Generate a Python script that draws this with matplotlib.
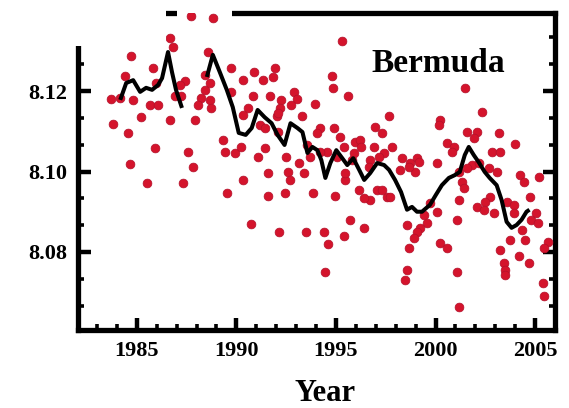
import matplotlib
matplotlib.use("Agg")
import matplotlib.pyplot as plt
from matplotlib.ticker import MultipleLocator, FixedLocator
from matplotlib.patches import Rectangle

# ---- data ----
obs_year = [
    1987.72, 1988.82, 1986.67, 1986.82, 1984.72, 1988.57, 1985.82, 1984.42, 1987.42, 1987.17,
    1988.42, 1985.97, 1989.72, 1989.72, 1983.72, 1984.17, 1984.82, 1985.67, 1986.07, 1986.92,
    1987.22, 1988.42, 1988.22, 1988.07, 1988.67, 1988.72, 1985.22, 1986.67, 1987.92, 1983.82,
    1984.57, 1985.92, 1987.57, 1989.32, 1989.42, 1989.92, 1984.67, 1987.82, 1985.52, 1987.32,
    1989.52, 1988.67,
    1990.32, 1990.87, 1991.32, 1991.92, 1991.82, 1990.82, 1991.67, 1990.57, 1992.22, 1992.92,
    1993.07, 1992.72, 1992.17, 1992.02, 1993.97, 1993.32, 1991.17, 1994.22, 1994.07, 1994.92,
    1995.22, 1996.97, 1997.32, 1995.97, 1996.22, 1996.92, 1997.42, 1997.82, 1990.22, 1991.42,
    1991.07, 1992.47, 1993.57, 1993.72, 1994.57, 1995.07, 1995.82, 1996.72, 1993.17, 1995.32,
    1994.82, 1994.87, 1995.62, 1997.67, 1990.32, 1991.42, 1992.07, 1992.57, 1990.32, 1991.57,
    1993.42, 1992.67, 1991.57, 1992.42, 1993.87, 1994.97, 1995.47, 1996.17, 1997.07, 1997.57,
    1996.72, 1990.72, 1992.12, 1993.52, 1994.42, 1994.62, 1995.42, 1995.72, 1996.42, 1994.47,
    1996.27, 1997.17, 1996.67, 1994.22, 1995.42, 1997.32, 1996.42, 1997.72, 1992.07, 1995.92,
    1995.47,
    2001.47, 2002.32, 2000.22, 2000.17, 2001.57, 2002.07, 2001.92, 2003.17, 2003.97, 2000.57,
    2000.92, 2000.82, 2002.82, 2003.22, 2000.07, 1999.07, 1998.72, 1998.32, 1999.17, 1998.22,
    1998.97, 2001.82, 2001.57, 2001.17, 2002.67, 2003.07, 2004.22, 2004.42, 2005.22, 2001.32,
    2001.42, 2001.17, 2002.72, 2002.47, 2002.07, 2002.42, 2003.57, 2003.92, 2003.92, 2004.72,
    2005.07, 2004.82, 2001.07, 2000.07, 1999.42, 1999.57, 1999.22, 1998.57, 1999.07, 1998.92,
    1998.67, 2000.22, 2000.57, 1999.72, 1998.57, 1998.47, 2001.07, 2001.17, 2005.17, 2004.32,
    2003.72, 2004.47, 2003.22, 2004.17, 2004.67, 2003.42, 2003.47, 2003.47, 2005.42, 2005.47,
    2005.67, 2005.47, 2002.92, 2002.17, 1998.67,
]
obs_ph = [
    8.1386, 8.1381, 8.1332, 8.1309, 8.1287, 8.1297, 8.1257, 8.1237, 8.1225, 8.1215,
    8.1240, 8.1220, 8.1257, 8.1198, 8.1180, 8.1183, 8.1178, 8.1165, 8.1165, 8.1188,
    8.1188, 8.1203, 8.1183, 8.1165, 8.1178, 8.1158, 8.1135, 8.1128, 8.1128, 8.1118,
    8.1096, 8.1058, 8.1048, 8.1078, 8.1048, 8.1046, 8.1018, 8.1011, 8.0971, 8.0971,
    8.0947, 8.1220,
    8.1227, 8.1247, 8.1227, 8.1257, 8.1235, 8.1188, 8.1188, 8.1158, 8.1178, 8.1198,
    8.1180, 8.1165, 8.1158, 8.1138, 8.1168, 8.1138, 8.1116, 8.1108, 8.1096, 8.1108,
    8.1086, 8.1111, 8.1096, 8.1073, 8.1078, 8.1061, 8.1046, 8.1061, 8.1061, 8.1058,
    8.1036, 8.1036, 8.1066, 8.1036, 8.1048, 8.1036, 8.1028, 8.1028, 8.1021, 8.1324,
    8.1237, 8.1208, 8.1188, 8.1138, 8.1140, 8.1108, 8.1098, 8.0999, 8.0979, 8.0996,
    8.0996, 8.0979, 8.0939, 8.0947, 8.0947, 8.0939, 8.0979, 8.0954, 8.0954, 8.0937,
    8.0929, 8.0870, 8.0850, 8.0850, 8.0850, 8.0820, 8.0840, 8.0880, 8.0860, 8.0751,
    8.1061, 8.1036, 8.1011, 8.1048, 8.1061, 8.0954, 8.0934, 8.0937, 8.1145, 8.1046,
    8.0996,
    8.1208, 8.1148, 8.1128, 8.1116, 8.1098, 8.1098, 8.1083, 8.1096, 8.1068, 8.1071,
    8.1061, 8.1048, 8.1048, 8.1048, 8.1021, 8.1033, 8.1021, 8.1033, 8.1023, 8.1004,
    8.0999, 8.1016, 8.1009, 8.0999, 8.1009, 8.0999, 8.0991, 8.0974, 8.0986, 8.0974,
    8.0959, 8.0929, 8.0937, 8.0924, 8.0912, 8.0905, 8.0924, 8.0917, 8.0897, 8.0937,
    8.0897, 8.0880, 8.0880, 8.0900, 8.0892, 8.0872, 8.0860, 8.0867, 8.0850, 8.0835,
    8.0810, 8.0822, 8.0810, 8.0922, 8.0756, 8.0731, 8.0751, 8.0663, 8.0872, 8.0855,
    8.0830, 8.0830, 8.0805, 8.0790, 8.0773, 8.0773, 8.0756, 8.0743, 8.0723, 8.0691,
    8.0825, 8.0810, 8.0897, 8.1021, 8.1011,
]

mean1_year = [1984.17, 1984.47, 1984.82, 1985.17, 1985.47, 1985.77, 1986.07, 1986.27,
              1986.57, 1986.77, 1986.97, 1987.27]
mean1_ph = [8.1178, 8.1220, 8.1227, 8.1198, 8.1208, 8.1203, 8.1215, 8.1232,
            8.1297, 8.1247, 8.1203, 8.1158]

mean2_year = [1988.52, 1988.82, 1989.17, 1989.52, 1989.82, 1990.12, 1990.47, 1990.77,
              1991.07, 1991.42, 1991.77, 1992.07, 1992.42, 1992.72, 1993.07, 1993.32,
              1993.57, 1993.82, 1994.07, 1994.27, 1994.47, 1994.72, 1995.02, 1995.32,
              1995.57, 1995.87, 1996.17, 1996.42, 1996.72, 1997.07, 1997.42, 1997.67,
              1997.97, 1998.27, 1998.57, 1998.82, 1999.07, 1999.32, 1999.72, 2000.02,
              2000.32, 2000.67, 2000.97, 2001.22, 2001.47, 2001.67, 2001.92, 2002.17,
              2002.47, 2002.72, 2003.07, 2003.32, 2003.57, 2003.82, 2004.07, 2004.32,
              2004.57, 2004.72]
mean2_ph = [8.1235, 8.1290, 8.1247, 8.1203, 8.1160, 8.1096, 8.1091, 8.1108,
            8.1153, 8.1135, 8.1120, 8.1091, 8.1066, 8.1120, 8.1108, 8.1098,
            8.1046, 8.1061, 8.1053, 8.1028, 8.0984, 8.1021, 8.1053, 8.1033,
            8.1016, 8.1033, 8.1004, 8.0979, 8.0996, 8.1021, 8.1016, 8.1004,
            8.0979, 8.0949, 8.0905, 8.0912, 8.0900, 8.0900, 8.0917, 8.0942,
            8.0966, 8.0984, 8.0991, 8.0999, 8.1041, 8.1061, 8.1041, 8.1023,
            8.0999, 8.0984, 8.0966, 8.0929, 8.0875, 8.0860, 8.0867, 8.0880,
            8.0900, 8.0905]

x_ticks = [1985, 1990, 1995, 2000, 2005]
x_ticklabels = ["1985", "1990", "1995", "2000", "2005"]
y_ticks = [8.08, 8.10, 8.12]
y_ticklabels = ["8.08", "8.10", "8.12"]
site_label = "Bermuda"
x_label = "Year"

# ---- figure ----
plt.rcParams["font.family"] = ["Liberation Serif", "DejaVu Serif"]
plt.rcParams["font.weight"] = "bold"

fig = plt.figure(figsize=(5.69, 4.08), dpi=100)
fig.patch.set_facecolor("white")
ax = fig.add_axes([78 / 569, 1 - 330 / 408, (555 - 78) / 569, (330 - 13) / 408])

ax.scatter(obs_year, obs_ph, s=40, color="#d4142c", edgecolors="#b3102a",
           linewidths=0.5, zorder=3)
ax.plot(mean1_year, mean1_ph, color="black", lw=2.9, zorder=4,
        solid_joinstyle="round", solid_capstyle="butt")
ax.plot(mean2_year, mean2_ph, color="black", lw=2.9, zorder=4,
        solid_joinstyle="round", solid_capstyle="butt")

ax.set_xlim(1982.05, 2006.0)
ax.set_ylim(8.0606, 8.1394)

ax.xaxis.set_major_locator(FixedLocator(x_ticks))
ax.set_xticklabels(x_ticklabels)
ax.xaxis.set_minor_locator(MultipleLocator(1))
ax.yaxis.set_major_locator(FixedLocator(y_ticks))
ax.set_yticklabels(y_ticklabels)
ax.yaxis.set_minor_locator(MultipleLocator(0.02 / 3))

for sp in ax.spines.values():
    sp.set_linewidth(3.8)
    sp.set_zorder(2.5)

ax.tick_params(which="both", direction="in", top=False, right=True,
               labelsize=16, colors="black")
ax.tick_params(which="major", length=9, width=3.2, pad=8)
ax.tick_params(which="minor", length=4.5, width=2.6)
for lab in ax.get_xticklabels() + ax.get_yticklabels():
    lab.set_fontweight("bold")

ax.text(1996.8, 8.1247, site_label, fontsize=24, fontweight="bold",
        ha="left", va="baseline", zorder=5)

fig.text(325 / 569, 0.016, x_label, fontsize=22, fontweight="bold",
         ha="center", va="baseline")

# gap in top frame line (under the dots)
ax.add_patch(Rectangle((177 / 569, 1 - 20 / 408), (232 - 177) / 569, 14 / 408,
                       transform=fig.transFigure, facecolor="white",
                       edgecolor="none", zorder=2.8, clip_on=False))
# white block covering top-left corner
fig.patches.append(Rectangle((0, 1 - 46 / 408), 166 / 569, 46 / 408,
                             transform=fig.transFigure, facecolor="white",
                             edgecolor="none", zorder=10))

fig.savefig("out.png", dpi=100, facecolor="white")
